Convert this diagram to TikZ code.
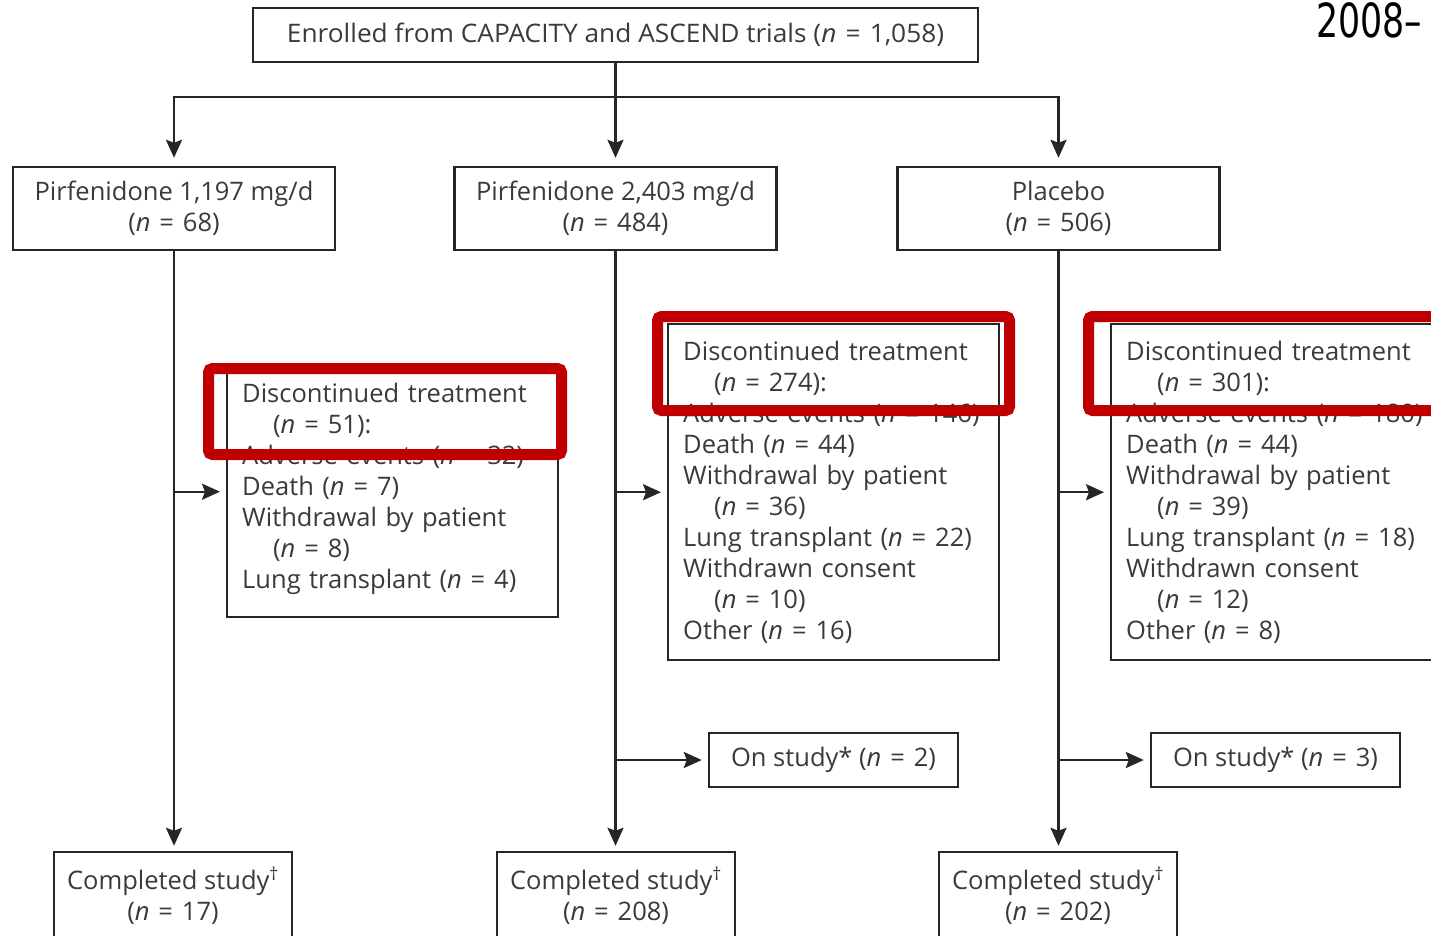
\documentclass[tikz,border=0pt]{standalone}
\usepackage{fontspec}
\setmainfont{Open Sans}
\newfontfamily\yearfont{DejaVu Sans}
\usetikzlibrary{arrows.meta}
\usetikzlibrary{calc}

\definecolor{txtgray}{HTML}{3A3A3A}
\definecolor{linegray}{HTML}{262626}
\definecolor{markred}{HTML}{C00000}

\newcommand{\nis}[1]{(\textit{n}\hspace{0.35em}=\hspace{0.35em}#1)}

\tikzset{
    flowbox/.style={draw=linegray, line width=2.4pt, rectangle, inner sep=0pt,
        align=center, text=txtgray, font=\fontsize{25.5}{31}\selectfont},
    listbox/.style={flowbox, align=left, anchor=north west, inner xsep=15pt,
        text width=301pt, minimum width=331pt},
    flowarrow/.style={draw=linegray, line width=2.4pt,
        -{Stealth[length=18pt, width=16pt, inset=3pt]}},
    redmark/.style={draw=markred, line width=11pt, rounded corners=4pt}
}

\begin{document}
\begin{tikzpicture}[x=1pt, y=-1pt]
    \useasboundingbox (0,0) rectangle (1431,935);

    \node[flowbox, minimum width=725pt, minimum height=54pt] (enrolled) at (615.5,35)
        {\scalebox{1.03}[1]{Enrolled from CAPACITY and ASCEND trials \nis{1,058}}};

    \node[flowbox, minimum width=322pt, minimum height=83pt] (pfdlow) at (174,208.5)
        {Pirfenidone 1,197 mg/d\\\nis{68}};
    \node[flowbox, minimum width=322pt, minimum height=83pt] (pfdhigh) at (615.5,208.5)
        {Pirfenidone 2,403 mg/d\\\nis{484}};
    \node[flowbox, minimum width=322pt, minimum height=83pt] (placebo) at (1058.5,208.5)
        {Placebo\\\nis{506}};

    % discontinued treatment
    \node[listbox, minimum height=251pt] (disclow) at (226,365)
        {Discontinued treatment\\
        \hspace*{31pt}\nis{51}:\\
        \mbox{Adverse events \nis{32}}\\
        Death \nis{7}\\
        Withdrawal by patient\\
        \hspace*{31pt}\nis{8}\\
        Lung transplant \nis{4}\\[-20pt]\mbox{}};
    \node[listbox, minimum height=336pt] (dischigh) at (667,323)
        {Discontinued treatment\\
        \hspace*{31pt}\nis{274}:\\
        \mbox{Adverse events \nis{146}}\\
        Death \nis{44}\\
        Withdrawal by patient\\
        \hspace*{31pt}\nis{36}\\
        Lung transplant \nis{22}\\
        Withdrawn consent\\
        \hspace*{31pt}\nis{10}\\
        Other \nis{16}};
    \node[listbox, minimum height=336pt] (discpbo) at (1110,323)
        {Discontinued treatment\\
        \hspace*{31pt}\nis{301}:\\
        \mbox{Adverse events \nis{180}}\\
        Death \nis{44}\\
        Withdrawal by patient\\
        \hspace*{31pt}\nis{39}\\
        Lung transplant \nis{18}\\
        Withdrawn consent\\
        \hspace*{31pt}\nis{12}\\
        Other \nis{8}};

    \node[flowbox, minimum width=249pt, minimum height=54pt] (onhigh) at (833.5,760)
        {On study* \nis{2}};
    \node[flowbox, minimum width=249pt, minimum height=54pt] (onpbo) at (1275.5,760)
        {On study* \nis{3}};

    \node[flowbox, minimum width=238pt, minimum height=88pt] (complow) at (173,896)
        {Completed study\textsuperscript{†}\\\nis{17}};
    \node[flowbox, minimum width=238pt, minimum height=88pt] (comphigh) at (616,896)
        {Completed study\textsuperscript{†}\\\nis{208}};
    \node[flowbox, minimum width=238pt, minimum height=88pt] (comppbo) at (1058,896)
        {Completed study\textsuperscript{†}\\\nis{202}};

    \node[anchor=base west, inner sep=0pt, font=\yearfont\fontsize{47}{50}\selectfont]
        (year) at (1316,37) {\scalebox{0.74}[1]{2008–}};

    % connectors
    \coordinate (split) at (615.5,97);
    \draw[draw=linegray, line width=2.4pt] (enrolled.south) -- (split);
    \draw[flowarrow, shorten >=8pt] (split) -| (pfdlow.north);
    \draw[flowarrow, shorten >=8pt] (split) -- (pfdhigh.north);
    \draw[flowarrow, shorten >=8pt] (split) -| (placebo.north);

    \draw[flowarrow, shorten >=5pt] (pfdlow.south) -- (pfdlow.south |- complow.north);
    \draw[flowarrow, shorten >=5pt] (pfdhigh.south) -- (pfdhigh.south |- comphigh.north);
    \draw[flowarrow, shorten >=5pt] (placebo.south) -- (placebo.south |- comppbo.north);

    \draw[flowarrow, shorten >=6pt] (pfdlow.south |- disclow.west) -- (disclow.west);
    \draw[flowarrow, shorten >=6pt] (pfdhigh.south |- dischigh.west) -- (dischigh.west);
    \draw[flowarrow, shorten >=6pt] (placebo.south |- discpbo.west) -- (discpbo.west);

    \draw[flowarrow, shorten >=6pt] (pfdhigh.south |- onhigh.west) -- (onhigh.west);
    \draw[flowarrow, shorten >=6pt] (placebo.south |- onpbo.west) -- (onpbo.west);

    % highlight marks
    \draw[redmark] (208.5,368.5) rectangle (561.5,454.5);
    \draw[redmark] (657.5,316.5) rectangle (1009.5,410.5);
    \draw[redmark] (1088.5,316.5) rectangle (1480,410.5);
\end{tikzpicture}
\end{document}
